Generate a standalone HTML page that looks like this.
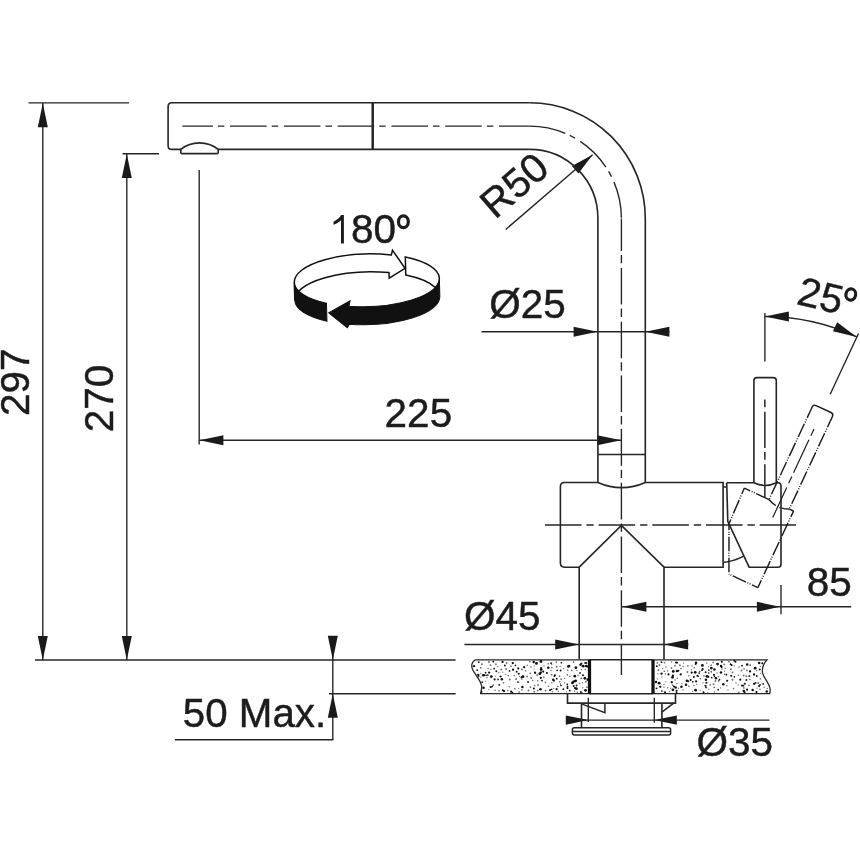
<!DOCTYPE html>
<html><head><meta charset="utf-8"><style>
html,body{margin:0;padding:0;background:#fff;}
svg{display:block;will-change:transform;}
text{font-family:"Liberation Sans",sans-serif;}
</style></head><body>
<svg width="860" height="860" viewBox="0 0 860 860">
<rect width="860" height="860" fill="#fff"/>
<line x1="28.5" y1="102.9" x2="129" y2="102.9" stroke="#262626" stroke-width="1.38" />
<line x1="42.8" y1="103" x2="42.8" y2="660" stroke="#262626" stroke-width="1.38" />
<polygon points="42.8,103.2 47.8,127.2 37.8,127.2" fill="#1a1a1a"/>
<polygon points="42.8,660 37.8,636 47.8,636" fill="#1a1a1a"/>
<line x1="122.5" y1="153.7" x2="159" y2="153.7" stroke="#262626" stroke-width="1.38" />
<line x1="126.8" y1="153.7" x2="126.8" y2="660" stroke="#262626" stroke-width="1.38" />
<polygon points="126.8,153.9 131.8,177.9 121.8,177.9" fill="#1a1a1a"/>
<polygon points="126.8,660 121.8,636 131.8,636" fill="#1a1a1a"/>
<line x1="35" y1="660" x2="455.6" y2="660" stroke="#262626" stroke-width="1.38" />
<line x1="329" y1="693.7" x2="455.6" y2="693.7" stroke="#262626" stroke-width="1.38" />
<line x1="332.8" y1="636" x2="332.8" y2="740" stroke="#262626" stroke-width="1.38" />
<polygon points="332.8,659.8 327.8,635.8 337.8,635.8" fill="#1a1a1a"/>
<polygon points="332.8,693.7 337.8,717.7 327.8,717.7" fill="#1a1a1a"/>
<line x1="175" y1="739.8" x2="333.3" y2="739.8" stroke="#262626" stroke-width="1.38" />
<line x1="199.2" y1="170" x2="199.2" y2="444.5" stroke="#262626" stroke-width="1.38" />
<line x1="199.2" y1="440.3" x2="621.4" y2="440.3" stroke="#262626" stroke-width="1.38" />
<polygon points="199.4,440.3 223.4,435.3 223.4,445.3" fill="#1a1a1a"/>
<polygon points="621.2,440.3 597.2,445.3 597.2,435.3" fill="#1a1a1a"/>
<line x1="481.5" y1="331.7" x2="669.5" y2="331.7" stroke="#262626" stroke-width="1.38" />
<polygon points="597.6,331.7 573.6,336.7 573.6,326.7" fill="#1a1a1a"/>
<polygon points="645.4,331.7 669.4,326.7 669.4,336.7" fill="#1a1a1a"/>
<line x1="464.4" y1="644.5" x2="688.4" y2="644.5" stroke="#262626" stroke-width="1.38" />
<polygon points="579.2,644.5 555.2,649.5 555.2,639.5" fill="#1a1a1a"/>
<polygon points="664.1,644.5 688.1,639.5 688.1,649.5" fill="#1a1a1a"/>
<line x1="621.4" y1="606.8" x2="851.2" y2="606.8" stroke="#262626" stroke-width="1.38" />
<polygon points="622.4,606.8 646.4,601.8 646.4,611.8" fill="#1a1a1a"/>
<polygon points="779.9,606.8 756.9,611.8 756.9,601.8" fill="#1a1a1a"/>
<line x1="781" y1="584.9" x2="781" y2="614.3" stroke="#262626" stroke-width="1.38" />
<line x1="565.9" y1="720.1" x2="769.4" y2="720.1" stroke="#262626" stroke-width="1.38" />
<polygon points="588.3,720.1 565.8,724.8 565.8,715.4" fill="#1a1a1a"/>
<polygon points="654.3,720.1 676.8,715.4 676.8,724.8" fill="#1a1a1a"/>
<line x1="588.3" y1="697.8" x2="588.3" y2="722" stroke="#262626" stroke-width="1.38" />
<line x1="654.3" y1="697.8" x2="654.3" y2="722.8" stroke="#262626" stroke-width="1.38" />
<line x1="764.9" y1="313" x2="764.9" y2="361.4" stroke="#262626" stroke-width="1.38" />
<line x1="858.5" y1="333.5" x2="830.2" y2="394.3" stroke="#262626" stroke-width="1.38" />
<path d="M764.9,316.5 A217.5,217.5 0 0 1 856.82,336.88" stroke="#262626" stroke-width="1.38" fill="none" />
<polygon points="764.9,316.5 788.9,311.5 788.9,321.5" fill="#1a1a1a"/>
<polygon points="856.82,336.88 832.95,331.27 837.18,322.2" fill="#1a1a1a"/>
<line x1="505.7" y1="229.5" x2="592.6" y2="154.7" stroke="#262626" stroke-width="1.38" />
<polygon points="592.6,154.7 578.43,173.49 571.91,165.92" fill="#1a1a1a"/>
<path d="M529.7,102.8 H171.8 Q168.1,102.8 168.1,106.5 V145.7 Q168.1,149.4 171.8,149.4 H529.7" stroke="#262626" stroke-width="1.62" fill="none" />
<path d="M529.7,102.8 A115.6,115.7 0 0 1 645.3,218.5 V482.5" stroke="#262626" stroke-width="1.62" fill="none" />
<path d="M529.7,149.4 A68.2,69.1 0 0 1 597.9,218.5 V482.5" stroke="#262626" stroke-width="1.62" fill="none" />
<line x1="597.9" y1="454.4" x2="645.3" y2="454.4" stroke="#262626" stroke-width="1.5" />
<path d="M597.9,482.5 Q621.6,492.9 645.3,482.5" stroke="#262626" stroke-width="1.69" fill="none" />
<line x1="372.7" y1="102.8" x2="372.7" y2="149.4" stroke="#262626" stroke-width="2.5" />
<path d="M180.8,149.4 V152.6 Q180.8,153.6 181.8,153.6 H217.2 Q218.2,153.6 218.2,152.6 V149.4 A30.2,30.2 0 0 0 180.8,149.4 Z" stroke="#262626" stroke-width="1.62" fill="#fff" />
<path d="M182.3,126.1 H529.7" stroke="#262626" stroke-width="1.38" fill="none" stroke-dasharray="36.6 5 6.5 5.68" stroke-dashoffset="6"/>
<path d="M529.7,126.1 A91.7,92.4 0 0 1 621.4,218.5" stroke="#262626" stroke-width="1.38" fill="none" stroke-dasharray="36.5 5 6 6" />
<path d="M621.4,218.5 V675" stroke="#262626" stroke-width="1.38" fill="none" stroke-dasharray="36.6 4 8.4 4.7" stroke-dashoffset="4.2"/>
<line x1="199.2" y1="170" x2="199.2" y2="170.1" stroke="#262626" stroke-width="1.38" />
<path d="M579.2,567.2 H564.5 Q560.4,567.2 560.4,563.1 V486.6 Q560.4,482.5 564.5,482.5 H597.9 M645.3,482.5 H723.1 V567.2 H663.8" stroke="#262626" stroke-width="1.62" fill="none" />
<path d="M579.2,659.5 V567.2 L621.4,525.4 L664,567.2 V659.5" stroke="#262626" stroke-width="1.62" fill="none" />
<line x1="544.9" y1="525.1" x2="796" y2="525.1" stroke="#262626" stroke-width="1.5" stroke-dasharray="36.6 4.9 7.3 4.9" />
<path d="M726.7,482.7 H753.9 M776.3,482.7 H778 Q781,482.7 781,485.7 V564.2 Q781,567.2 778,567.2 H749.1 L727.8,521.4 L726.7,482.7" stroke="#262626" stroke-width="1.62" fill="none" />
<path d="M753.9,482.7 V380.6 Q753.9,377.6 756.9,377.6 H773.3 Q776.3,377.6 776.3,380.6 V482.7 M753.9,482.7 Q765,488.2 776.3,482.7" stroke="#262626" stroke-width="1.62" fill="none" />
<line x1="764.85" y1="399.6" x2="764.85" y2="497.3" stroke="#262626" stroke-width="1.5" stroke-dasharray="36.4 4 7.6 4.5" stroke-dashoffset="40.4"/>
<line x1="723.1" y1="487" x2="726.5" y2="487" stroke="#262626" stroke-width="1.5" />
<line x1="723.1" y1="562.1" x2="726.7" y2="562.1" stroke="#262626" stroke-width="1.5" />
<path d="M726.7,562 Q737,560 743.7,556.1" stroke="#262626" stroke-width="1.5" fill="none" />
<g transform="rotate(25 723.4 525.2)" stroke="#1e1e1e" stroke-width="1.45" fill="none" stroke-linejoin="round"><path d="M726.7,482.7 H753.9" stroke-dasharray="14.5 1.6 1 1.4 1 1.6" stroke-dashoffset="8"/><path d="M726.7,482.7 L727.8,521.4" stroke-dasharray="14.5 1.6 1 1.4 1 1.6" stroke-dashoffset="8"/><path d="M781,482.7 H776.3" stroke-dasharray="14.5 1.6 1 1.4 1 1.6" stroke-dashoffset="8"/><path d="M781,482.7 V567.2" stroke-dasharray="14.5 1.6 1 1.4 1 1.6" stroke-dashoffset="8"/><path d="M781,567.2 H749.1" stroke-dasharray="14.5 1.6 1 1.4 1 1.6" stroke-dashoffset="8"/><path d="M727.8,521.4 L749.1,567.2" stroke-dasharray="14.5 1.6 1 1.4 1 1.6" stroke-dashoffset="8"/><path d="M753.9,386 V482.7" stroke-dasharray="14.5 1.6 1 1.4 1 1.6" stroke-dashoffset="8"/><path d="M776.3,386 V482.7" stroke-dasharray="14.5 1.6 1 1.4 1 1.6" stroke-dashoffset="8"/><path d="M753.9,386 V380.6 Q753.9,377.6 756.9,377.6 H773.3 Q776.3,377.6 776.3,380.6 V386"/><path d="M753.9,482.7 Q765,488.2 776.3,482.7" stroke-dasharray="9 1.6 1 1.4 1 1.6"/><path d="M764.85,399.6 V497.3" stroke-width="1.2" stroke-dasharray="36.4 4 7.6 4.5" stroke-dashoffset="40.4"/></g>
<path d="M475.3,659.8 C471.5,661.5 471,666.5 472.8,670 C475,674.5 481.3,681 481.7,686.5 C481.9,689.5 480.8,691.5 480.6,693.7 H589.5 V659.8 Z" fill="#fff" stroke="#262626" stroke-width="1.3"/>
<path d="M653,659.8 H767 C764,663 762,668.5 762.5,672.7 C763.5,678 769.5,683 770.2,689.5 L769.8,693.7 H653 Z" fill="#fff" stroke="#262626" stroke-width="1.3"/>
<clipPath id="ctc"><path d="M475.3,659.8 C471.5,661.5 471,666.5 472.8,670 C475,674.5 481.3,681 481.7,686.5 C481.9,689.5 480.8,691.5 480.6,693.7 H589.5 V659.8 Z M653,659.8 H767 C764,663 762,668.5 762.5,672.7 C763.5,678 769.5,683 770.2,689.5 L769.8,693.7 H653 Z"/></clipPath>
<g clip-path="url(#ctc)"><g fill="#707070"><circle cx="480.61" cy="677.13" r="0.65"/><circle cx="566.51" cy="691.84" r="0.65"/><circle cx="530.43" cy="687.21" r="0.85"/><circle cx="527.16" cy="665.15" r="0.75"/><circle cx="490.81" cy="669.32" r="0.75"/><circle cx="564.56" cy="683.03" r="0.75"/><circle cx="567.36" cy="674.81" r="0.85"/><circle cx="534.22" cy="666.02" r="0.65"/><circle cx="493.04" cy="685.28" r="0.95"/><circle cx="551.85" cy="682.85" r="0.75"/><circle cx="501.26" cy="669.46" r="0.95"/><circle cx="563.58" cy="668.34" r="0.65"/><circle cx="499.03" cy="690.84" r="0.85"/><circle cx="559.52" cy="676.22" r="0.85"/><circle cx="516.09" cy="678.94" r="0.95"/><circle cx="503.55" cy="682.83" r="0.95"/><circle cx="514.33" cy="675.61" r="0.75"/><circle cx="488.11" cy="668.38" r="0.75"/><circle cx="506.14" cy="668.96" r="0.95"/><circle cx="521.89" cy="679.44" r="0.65"/><circle cx="586.85" cy="687.14" r="0.85"/><circle cx="485.8" cy="681.04" r="0.65"/><circle cx="557.66" cy="686.52" r="0.85"/><circle cx="519.15" cy="692.07" r="0.85"/><circle cx="531.19" cy="677.88" r="0.95"/><circle cx="551.57" cy="674.67" r="0.95"/><circle cx="488.94" cy="689.53" r="0.65"/><circle cx="582.75" cy="687.64" r="0.65"/><circle cx="576.78" cy="670.43" r="0.65"/><circle cx="581.24" cy="678.42" r="0.95"/><circle cx="509.81" cy="679.54" r="0.95"/><circle cx="530.31" cy="673.28" r="0.85"/><circle cx="567.7" cy="670.27" r="0.85"/><circle cx="519.4" cy="676.51" r="0.65"/><circle cx="552.4" cy="691.76" r="0.75"/><circle cx="548.21" cy="663.73" r="0.85"/><circle cx="480.79" cy="667.84" r="0.95"/><circle cx="495.15" cy="690.33" r="0.75"/><circle cx="527.12" cy="676.4" r="0.95"/><circle cx="506.63" cy="663.01" r="0.95"/><circle cx="508.37" cy="675.69" r="0.75"/><circle cx="532.77" cy="680.52" r="0.75"/><circle cx="497.8" cy="666.5" r="0.75"/><circle cx="518.57" cy="688.34" r="0.65"/><circle cx="558.34" cy="691.55" r="0.75"/><circle cx="556.33" cy="662.1" r="0.95"/><circle cx="544" cy="666.08" r="0.75"/><circle cx="578.02" cy="675.15" r="0.75"/><circle cx="561.16" cy="679.15" r="0.85"/><circle cx="556.63" cy="666.74" r="0.95"/><circle cx="538.04" cy="684.91" r="0.95"/><circle cx="573.51" cy="662.17" r="0.85"/><circle cx="509.17" cy="686.64" r="0.75"/><circle cx="481.96" cy="664.29" r="0.95"/><circle cx="571.87" cy="670.42" r="0.85"/><circle cx="487.12" cy="677.85" r="0.75"/><circle cx="559.56" cy="681.75" r="0.85"/><circle cx="480.72" cy="685.16" r="0.95"/><circle cx="551.81" cy="667.6" r="0.85"/><circle cx="528.5" cy="690.5" r="0.95"/><circle cx="537.67" cy="680.84" r="0.75"/><circle cx="537.16" cy="675.07" r="0.95"/><circle cx="534.07" cy="668.84" r="0.65"/><circle cx="569.81" cy="676.27" r="0.85"/><circle cx="514.9" cy="688.73" r="0.85"/><circle cx="476.91" cy="688.43" r="0.75"/><circle cx="545.53" cy="690.69" r="0.85"/><circle cx="510.92" cy="666.15" r="0.85"/><circle cx="488.93" cy="661.94" r="0.95"/><circle cx="495.93" cy="664.29" r="0.95"/><circle cx="585.75" cy="681.74" r="0.95"/><circle cx="564.66" cy="678.38" r="0.65"/><circle cx="545.39" cy="682.46" r="0.85"/><circle cx="548.44" cy="686.13" r="0.75"/><circle cx="490.45" cy="665.13" r="0.85"/><circle cx="521.88" cy="669.42" r="0.95"/><circle cx="582.65" cy="682.77" r="0.65"/><circle cx="502.76" cy="672.2" r="0.65"/><circle cx="531.01" cy="666.98" r="0.85"/><circle cx="525.66" cy="670.73" r="0.75"/><circle cx="521.95" cy="689.77" r="0.85"/><circle cx="560.2" cy="666.39" r="0.65"/><circle cx="505.74" cy="674.29" r="0.65"/><circle cx="585.3" cy="669.51" r="0.75"/><circle cx="553.71" cy="688.5" r="0.65"/><circle cx="537.78" cy="690.55" r="0.85"/><circle cx="534.72" cy="685.49" r="0.85"/><circle cx="581.41" cy="669.5" r="0.65"/><circle cx="574.64" cy="691.3" r="0.75"/><circle cx="507.62" cy="690.82" r="0.75"/><circle cx="551.03" cy="670.46" r="0.75"/><circle cx="534.2" cy="691.64" r="0.95"/><circle cx="478.47" cy="682.08" r="0.85"/><circle cx="498.81" cy="672.86" r="0.75"/><circle cx="577.31" cy="692.19" r="0.75"/><circle cx="529.78" cy="661.6" r="0.95"/><circle cx="579.61" cy="683.46" r="0.75"/><circle cx="495.6" cy="676.12" r="0.65"/><circle cx="543.83" cy="677.07" r="0.85"/><circle cx="480.86" cy="673.61" r="0.75"/><circle cx="760.48" cy="678.75" r="0.85"/><circle cx="724.42" cy="671.24" r="0.65"/><circle cx="677.38" cy="678.28" r="0.75"/><circle cx="743.7" cy="675.44" r="0.95"/><circle cx="765.16" cy="665.09" r="0.95"/><circle cx="750.22" cy="665.17" r="0.95"/><circle cx="665.71" cy="667.01" r="0.75"/><circle cx="760.56" cy="673.36" r="0.65"/><circle cx="700.47" cy="678.57" r="0.85"/><circle cx="720.54" cy="687.93" r="0.65"/><circle cx="746.87" cy="670.43" r="0.85"/><circle cx="724.21" cy="664.4" r="0.95"/><circle cx="714.39" cy="691.97" r="0.75"/><circle cx="721.98" cy="668.92" r="0.75"/><circle cx="704.03" cy="675.8" r="0.85"/><circle cx="663.91" cy="684.52" r="0.75"/><circle cx="749.02" cy="685.33" r="0.85"/><circle cx="658.46" cy="670.14" r="0.95"/><circle cx="657.34" cy="662.91" r="0.85"/><circle cx="749.92" cy="679.51" r="0.85"/><circle cx="711.29" cy="671.78" r="0.95"/><circle cx="675.02" cy="680" r="0.75"/><circle cx="688.84" cy="675.85" r="0.75"/><circle cx="679.88" cy="665.24" r="0.95"/><circle cx="710.2" cy="684.82" r="0.85"/><circle cx="683.08" cy="689.92" r="0.75"/><circle cx="738.97" cy="692.27" r="0.85"/><circle cx="664.46" cy="662.72" r="0.85"/><circle cx="760.36" cy="666.5" r="0.65"/><circle cx="694.31" cy="667.77" r="0.85"/><circle cx="691.65" cy="669.76" r="0.65"/><circle cx="743.88" cy="687.89" r="0.95"/><circle cx="663.96" cy="687.35" r="0.75"/><circle cx="718.52" cy="676.42" r="0.75"/><circle cx="674.99" cy="665.72" r="0.85"/><circle cx="758.22" cy="683.07" r="0.95"/><circle cx="669.54" cy="691.46" r="0.75"/><circle cx="692.63" cy="691.34" r="0.65"/><circle cx="683.11" cy="666.57" r="0.75"/><circle cx="687.89" cy="665.83" r="0.85"/><circle cx="757.01" cy="688.08" r="0.65"/><circle cx="732.52" cy="679.79" r="0.95"/><circle cx="716.98" cy="673.08" r="0.75"/><circle cx="687.39" cy="672.03" r="0.95"/><circle cx="762.58" cy="670.32" r="0.75"/><circle cx="672.7" cy="685.21" r="0.85"/><circle cx="657.32" cy="678.94" r="0.65"/><circle cx="727.94" cy="689.9" r="0.65"/><circle cx="756.67" cy="670.85" r="0.75"/><circle cx="767.21" cy="688.39" r="0.65"/><circle cx="736.02" cy="682.9" r="0.75"/><circle cx="713.08" cy="662.39" r="0.85"/><circle cx="665.3" cy="674.11" r="0.75"/><circle cx="714.23" cy="687.4" r="0.85"/><circle cx="661.86" cy="676.93" r="0.65"/><circle cx="671.54" cy="661.96" r="0.75"/><circle cx="671.47" cy="668.07" r="0.95"/><circle cx="713.52" cy="684.28" r="0.95"/><circle cx="665.77" cy="681.8" r="0.65"/><circle cx="730.86" cy="669.15" r="0.95"/><circle cx="728.89" cy="661.71" r="0.85"/><circle cx="659.49" cy="664.98" r="0.95"/><circle cx="680.93" cy="668.49" r="0.85"/><circle cx="734.21" cy="665.96" r="0.65"/><circle cx="726.93" cy="685.76" r="0.75"/><circle cx="692.04" cy="666.02" r="0.75"/><circle cx="662.78" cy="668.56" r="0.65"/><circle cx="738.32" cy="684.95" r="0.65"/><circle cx="667.66" cy="687.73" r="0.75"/><circle cx="725.15" cy="668.3" r="0.75"/><circle cx="715.47" cy="681.02" r="0.95"/><circle cx="683.68" cy="663.12" r="0.65"/><circle cx="708.56" cy="666.63" r="0.65"/><circle cx="670.6" cy="688.15" r="0.65"/><circle cx="711.11" cy="665.13" r="0.85"/><circle cx="700.21" cy="690.7" r="0.65"/><circle cx="708.83" cy="689.09" r="0.65"/><circle cx="703" cy="682.93" r="0.65"/><circle cx="741.57" cy="670.53" r="0.95"/><circle cx="676.92" cy="683.47" r="0.75"/><circle cx="746.41" cy="676.19" r="0.95"/><circle cx="681.8" cy="683.7" r="0.65"/><circle cx="738.91" cy="667.05" r="0.75"/><circle cx="706.73" cy="662.94" r="0.75"/><circle cx="764.18" cy="687.22" r="0.75"/><circle cx="738.33" cy="675.25" r="0.65"/><circle cx="664.32" cy="671.23" r="0.85"/><circle cx="708.66" cy="672.95" r="0.95"/><circle cx="657.88" cy="673.67" r="0.65"/><circle cx="732.54" cy="672.39" r="0.85"/><circle cx="678.33" cy="688.32" r="0.75"/><circle cx="760" cy="689.26" r="0.75"/><circle cx="707.73" cy="692.3" r="0.65"/><circle cx="733.56" cy="688.49" r="0.85"/><circle cx="693.91" cy="685.48" r="0.75"/><circle cx="667.61" cy="671.01" r="0.65"/><circle cx="688.81" cy="686.27" r="0.85"/><circle cx="744.02" cy="668.77" r="0.85"/><circle cx="696.71" cy="684.52" r="0.65"/><circle cx="768.22" cy="681.81" r="0.65"/></g><g fill="#111"><circle cx="580.82" cy="691.93" r="0.95"/><circle cx="581.96" cy="692.9" r="0.76"/><circle cx="493.3" cy="661.59" r="0.95"/><circle cx="563.37" cy="689.13" r="0.95"/><circle cx="561.05" cy="685.52" r="0.85"/><circle cx="560.51" cy="684.11" r="0.68"/><circle cx="586.26" cy="666.1" r="1.4"/><circle cx="587.87" cy="666.59" r="1.12"/><circle cx="490.66" cy="686.96" r="1.05"/><circle cx="492.03" cy="686.55" r="0.84"/><circle cx="539.79" cy="673.72" r="1.4"/><circle cx="540.95" cy="672.44" r="1.12"/><circle cx="478.27" cy="674.86" r="1.15"/><circle cx="478.57" cy="675.9" r="0.92"/><circle cx="494.09" cy="668.64" r="0.85"/><circle cx="541.16" cy="669.59" r="1.4"/><circle cx="541.17" cy="668.09" r="1.12"/><circle cx="511.14" cy="691.69" r="1.15"/><circle cx="512.45" cy="692.62" r="0.92"/><circle cx="499.24" cy="684.92" r="0.95"/><circle cx="518.73" cy="673.79" r="1.05"/><circle cx="485.57" cy="672.7" r="0.85"/><circle cx="567.4" cy="688.11" r="1.05"/><circle cx="567.5" cy="686.39" r="0.84"/><circle cx="533.68" cy="662.08" r="1.25"/><circle cx="546.84" cy="672.97" r="1.05"/><circle cx="509.57" cy="670.89" r="0.85"/><circle cx="561.4" cy="662.75" r="0.85"/><circle cx="567.29" cy="684.29" r="0.85"/><circle cx="576.39" cy="688.71" r="1.4"/><circle cx="574.95" cy="688.08" r="1.12"/><circle cx="515.51" cy="665.28" r="0.85"/><circle cx="585.29" cy="662.93" r="1.05"/><circle cx="586.45" cy="662.94" r="0.84"/><circle cx="487.86" cy="675.12" r="0.85"/><circle cx="486.47" cy="675.2" r="0.68"/><circle cx="576.55" cy="685.52" r="0.95"/><circle cx="540.5" cy="689.35" r="1.25"/><circle cx="548.29" cy="667.77" r="1.25"/><circle cx="474.47" cy="674.4" r="0.95"/><circle cx="516.62" cy="671.72" r="0.95"/><circle cx="583.04" cy="675.27" r="0.95"/><circle cx="517.98" cy="682.09" r="0.85"/><circle cx="478.75" cy="662.19" r="0.85"/><circle cx="585.51" cy="690.34" r="1.4"/><circle cx="498.02" cy="679.41" r="0.85"/><circle cx="550.08" cy="689.99" r="1.05"/><circle cx="551.62" cy="689.25" r="0.84"/><circle cx="568.49" cy="666.47" r="1.4"/><circle cx="569.27" cy="665.81" r="1.12"/><circle cx="496.31" cy="671.31" r="0.95"/><circle cx="502.55" cy="661.97" r="1.15"/><circle cx="483.19" cy="675.33" r="1.25"/><circle cx="484.68" cy="675.16" r="1.00"/><circle cx="504.01" cy="691.12" r="1.15"/><circle cx="502.72" cy="690.26" r="0.92"/><circle cx="483.55" cy="687.87" r="1.25"/><circle cx="543.23" cy="671.6" r="1.05"/><circle cx="580.55" cy="664.77" r="1.25"/><circle cx="581.39" cy="663.5" r="1.00"/><circle cx="540.94" cy="661.51" r="1.4"/><circle cx="535.09" cy="672.76" r="1.15"/><circle cx="477.86" cy="678.52" r="1.05"/><circle cx="573.69" cy="686.07" r="0.95"/><circle cx="536.44" cy="663.43" r="1.4"/><circle cx="504.83" cy="665.49" r="0.95"/><circle cx="494.6" cy="679.41" r="1.05"/><circle cx="575.88" cy="667.64" r="1.4"/><circle cx="553.26" cy="679.81" r="1.25"/><circle cx="553.93" cy="680.8" r="1.00"/><circle cx="500.6" cy="676.44" r="1.05"/><circle cx="554.91" cy="675.27" r="1.05"/><circle cx="554.37" cy="676.28" r="0.84"/><circle cx="474.45" cy="686.11" r="1.4"/><circle cx="569.76" cy="690.6" r="0.95"/><circle cx="551.09" cy="663.16" r="0.85"/><circle cx="551.74" cy="664.07" r="0.68"/><circle cx="556.64" cy="689.14" r="1.05"/><circle cx="474.03" cy="666.16" r="1.15"/><circle cx="557.16" cy="670.37" r="0.85"/><circle cx="556.67" cy="678.64" r="0.85"/><circle cx="481.33" cy="691.84" r="1.15"/><circle cx="580.04" cy="672.96" r="0.85"/><circle cx="513.06" cy="669.65" r="1.15"/><circle cx="522.4" cy="686.97" r="1.25"/><circle cx="518.24" cy="668.39" r="1.05"/><circle cx="560.58" cy="670.43" r="0.95"/><circle cx="583.18" cy="666.15" r="1.4"/><circle cx="572.42" cy="682.94" r="1.4"/><circle cx="573.36" cy="681.69" r="1.12"/><circle cx="501.83" cy="679.19" r="1.25"/><circle cx="512.77" cy="663.12" r="1.15"/><circle cx="574.75" cy="676.14" r="1.4"/><circle cx="587.86" cy="679.65" r="1.4"/><circle cx="482.34" cy="682.12" r="0.95"/><circle cx="575.68" cy="680.82" r="1.4"/><circle cx="574.58" cy="681.32" r="1.12"/><circle cx="523.01" cy="676.7" r="1.4"/><circle cx="521.59" cy="677.49" r="1.12"/><circle cx="491.33" cy="676.56" r="1.4"/><circle cx="477.18" cy="670.11" r="0.95"/><circle cx="489.17" cy="672.61" r="1.15"/><circle cx="541.96" cy="680.59" r="0.85"/><circle cx="524.17" cy="667.14" r="1.15"/><circle cx="584.88" cy="678.35" r="1.4"/><circle cx="528.05" cy="681.96" r="0.95"/><circle cx="533.87" cy="688.45" r="1.05"/><circle cx="540.76" cy="677.8" r="1.15"/><circle cx="676.58" cy="690.83" r="1.05"/><circle cx="676.59" cy="692.53" r="0.84"/><circle cx="743.73" cy="691" r="1.25"/><circle cx="744.66" cy="692.22" r="1.00"/><circle cx="668.5" cy="674.41" r="1.05"/><circle cx="661.88" cy="691.04" r="0.85"/><circle cx="766.31" cy="669.08" r="1.05"/><circle cx="723.35" cy="684.13" r="1.25"/><circle cx="741.98" cy="665.61" r="0.95"/><circle cx="718.17" cy="689.6" r="0.85"/><circle cx="763.16" cy="683.92" r="0.85"/><circle cx="680.7" cy="674.46" r="1.15"/><circle cx="672.48" cy="677.31" r="1.4"/><circle cx="672.91" cy="675.74" r="1.12"/><circle cx="705.64" cy="672.3" r="0.95"/><circle cx="756.71" cy="675.91" r="0.95"/><circle cx="693.79" cy="676.99" r="1.05"/><circle cx="696.08" cy="681.41" r="1.05"/><circle cx="714.4" cy="669.49" r="1.25"/><circle cx="746.42" cy="679.98" r="0.95"/><circle cx="752.61" cy="689.9" r="1.25"/><circle cx="702.68" cy="669.1" r="1.05"/><circle cx="702.03" cy="670.18" r="0.84"/><circle cx="671.76" cy="682.25" r="1.15"/><circle cx="656.77" cy="666.15" r="0.95"/><circle cx="705.5" cy="685.82" r="1.05"/><circle cx="705.98" cy="687.46" r="0.84"/><circle cx="695.6" cy="690.21" r="1.4"/><circle cx="754.09" cy="674.48" r="1.15"/><circle cx="690.62" cy="679.98" r="1.05"/><circle cx="696.05" cy="662.75" r="1.25"/><circle cx="695.66" cy="663.93" r="1.00"/><circle cx="717.56" cy="664.05" r="1.4"/><circle cx="702.38" cy="665.41" r="1.4"/><circle cx="713.91" cy="674.69" r="1.05"/><circle cx="714.55" cy="676.31" r="0.84"/><circle cx="675.6" cy="687.48" r="1.25"/><circle cx="674.03" cy="686.61" r="1.00"/><circle cx="744.8" cy="683.74" r="1.05"/><circle cx="755.13" cy="668.16" r="1.4"/><circle cx="734.33" cy="676.83" r="0.85"/><circle cx="727.23" cy="680.76" r="1.05"/><circle cx="740.3" cy="679.67" r="1.05"/><circle cx="720.99" cy="665.93" r="1.25"/><circle cx="721.61" cy="666.98" r="1.00"/><circle cx="707.01" cy="676.36" r="1.4"/><circle cx="708.3" cy="676.76" r="1.12"/><circle cx="681.44" cy="686.81" r="1.25"/><circle cx="720.88" cy="672.55" r="1.25"/><circle cx="697.37" cy="675.77" r="0.95"/><circle cx="698.4" cy="676.16" r="0.76"/><circle cx="699.16" cy="673.09" r="0.85"/><circle cx="699.78" cy="671.5" r="0.68"/><circle cx="706.44" cy="682.71" r="1.05"/><circle cx="726.47" cy="674.65" r="0.85"/><circle cx="724.81" cy="674.26" r="0.68"/><circle cx="659.18" cy="683.13" r="1.4"/><circle cx="719.46" cy="679.57" r="0.85"/><circle cx="718.72" cy="680.99" r="0.68"/><circle cx="711.37" cy="668.06" r="1.4"/><circle cx="766.74" cy="691.48" r="1.25"/><circle cx="759.03" cy="686.1" r="1.05"/><circle cx="760.1" cy="684.86" r="0.84"/><circle cx="711.75" cy="677.58" r="0.85"/><circle cx="731.24" cy="675.73" r="1.05"/><circle cx="747.18" cy="664.39" r="1.25"/><circle cx="691.69" cy="672.57" r="1.15"/><circle cx="766.7" cy="676.45" r="0.85"/><circle cx="656.06" cy="682.12" r="1.25"/><circle cx="735.44" cy="661.68" r="1.05"/><circle cx="734.25" cy="660.65" r="0.84"/><circle cx="676.06" cy="662.55" r="1.05"/><circle cx="677.22" cy="662.69" r="0.84"/><circle cx="705.94" cy="679.77" r="1.25"/><circle cx="708.85" cy="669.98" r="0.85"/><circle cx="765.54" cy="673.71" r="1.05"/><circle cx="759.14" cy="663.12" r="1.25"/><circle cx="676.91" cy="670.99" r="1.25"/><circle cx="678.36" cy="670.81" r="1.00"/><circle cx="661.49" cy="662.17" r="0.95"/><circle cx="747.06" cy="689.66" r="1.05"/><circle cx="660.29" cy="686.82" r="1.15"/><circle cx="673.28" cy="671.38" r="1.4"/><circle cx="686.01" cy="684.75" r="1.25"/><circle cx="750" cy="671.39" r="1.15"/><circle cx="756.53" cy="692.08" r="1.05"/><circle cx="742.02" cy="685.62" r="1.05"/><circle cx="743.4" cy="685.7" r="0.84"/><circle cx="695.2" cy="672.37" r="1.4"/><circle cx="731.52" cy="665.1" r="1.05"/><circle cx="730.61" cy="664.15" r="0.84"/><circle cx="692.8" cy="681.78" r="0.85"/><circle cx="686.84" cy="680.64" r="1.25"/><circle cx="688.14" cy="681.16" r="1.00"/><circle cx="715.94" cy="678.13" r="1.25"/><circle cx="762.29" cy="663.33" r="1.05"/><circle cx="664.98" cy="692.19" r="1.05"/><circle cx="749.28" cy="676.08" r="0.95"/><circle cx="759.78" cy="669.44" r="0.95"/><circle cx="721.85" cy="661.79" r="1.05"/><circle cx="656.53" cy="688.36" r="0.95"/><circle cx="754.13" cy="683.85" r="1.15"/><circle cx="755.59" cy="682.95" r="0.92"/><circle cx="661.56" cy="673.68" r="1.15"/><circle cx="703.54" cy="692.3" r="1.05"/><circle cx="768.39" cy="673.15" r="0.85"/><circle cx="768.27" cy="672.1" r="0.68"/><circle cx="672.93" cy="689.85" r="1.4"/></g></g>
<line x1="589.5" y1="659.8" x2="653" y2="659.8" stroke="#262626" stroke-width="1.62" />
<line x1="589.5" y1="693.7" x2="653" y2="693.7" stroke="#262626" stroke-width="1.62" />
<line x1="589.5" y1="659.8" x2="589.5" y2="693.7" stroke="#111" stroke-width="3.25" />
<line x1="653" y1="659.8" x2="653" y2="693.7" stroke="#111" stroke-width="3.25" />
<path d="M567.5,693.8 V703.1 H675.5 V693.8" stroke="#262626" stroke-width="1.62" fill="none" />
<path d="M581.5,703.1 V727.3 M661.9,703.1 V727.3" stroke="#262626" stroke-width="1.62" fill="none" />
<path d="M581.5,703.9 L604.9,712.7 V703.1" stroke="#262626" stroke-width="1.5" fill="none" />
<path d="M673.7,703.1 L661.9,712.2" stroke="#262626" stroke-width="1.5" fill="none" />
<path d="M574.4,727.8 H668.6 Q670.6,727.8 670.6,729.8 V732.9 Q670.6,734.9 668.6,734.9 H574.4 Q572.4,734.9 572.4,732.9 V729.8 Q572.4,727.8 574.4,727.8 Z M572.4,731.4 H670.6" stroke="#262626" stroke-width="1.5" fill="#fff" />
<g transform="rotate(-1.5 366.85 280.3)">
<path d="M294.3,280.3 A72.55,26.4 0 0 1 392,255.54 L393.28,250.88 L405.3,269.3 L389.25,278.69 L389.2,273.18 A72.55,26.4 0 0 0 294.3,298.3 Z" stroke="#111" stroke-width="1.5" fill="#fff" />
<path d="M405.9,258.05 A72.55,26.4 0 0 1 439.4,280.3 A72.55,26.4 0 0 1 435.05,289.3 A72.55,26.4 0 0 0 405.9,276.05 Z" stroke="#111" stroke-width="1.5" fill="#fff" />
<path d="M439.4,280.3 A72.55,26.4 0 0 1 348.3,305.82 L349.57,300.35 L327.86,311.89 L346.06,327.27 L348.3,323.82 A72.55,26.4 0 0 0 439.4,298.3 Z" stroke="#111" stroke-width="1" fill="#111" />
<path d="M294.3,280.3 A72.55,26.4 0 0 0 325.9,302.09 L325.9,320.09 A72.55,26.4 0 0 1 294.3,298.3 Z" stroke="#111" stroke-width="1" fill="#111" />
</g>
<text x="328.7" y="243.3" font-size="40.5" text-anchor="start" fill="#1c1c1c" stroke="#1c1c1c" stroke-width="0.45" dx="22.24">80</text>
<path d="M341,243.6 V220.2 C339.3,222 336.5,223.8 333.5,224.8 V221.8 C336.8,220.3 339.7,217.6 341.2,215.1 H343.9 V243.6 Z" fill="#1c1c1c"/>
<ellipse cx="403.4" cy="221.7" rx="4.9" ry="5.9" fill="none" stroke="#1c1c1c" stroke-width="3.2"/>
<text x="489.3" y="317.6" font-size="40.5" text-anchor="start" fill="#1c1c1c" stroke="#1c1c1c" stroke-width="0.45" >Ø25</text>
<text x="384.6" y="426.8" font-size="40.5" text-anchor="start" fill="#1c1c1c" stroke="#1c1c1c" stroke-width="0.45" >225</text>
<text x="806.8" y="596.3" font-size="40.5" text-anchor="start" fill="#1c1c1c" stroke="#1c1c1c" stroke-width="0.45" >85</text>
<text x="464" y="630" font-size="40.5" text-anchor="start" fill="#1c1c1c" stroke="#1c1c1c" stroke-width="0.45" >Ø45</text>
<text x="696.4" y="756" font-size="40.5" text-anchor="start" fill="#1c1c1c" stroke="#1c1c1c" stroke-width="0.45" >Ø35</text>
<text x="182.8" y="726.6" font-size="40.3" text-anchor="start" fill="#1c1c1c" stroke="#1c1c1c" stroke-width="0.45" >50 Max.</text>
<text x="29.4" y="382.3" font-size="40.5" text-anchor="middle" fill="#1c1c1c" stroke="#1c1c1c" stroke-width="0.45" transform="rotate(-90 29.4 382.3)" >297</text>
<text x="112.6" y="398.5" font-size="40.5" text-anchor="middle" fill="#1c1c1c" stroke="#1c1c1c" stroke-width="0.45" transform="rotate(-90 112.6 398.5)" >270</text>
<text x="495.1" y="219.9" font-size="40.5" text-anchor="start" fill="#1c1c1c" stroke="#1c1c1c" stroke-width="0.45" transform="rotate(-40.7 495.1 219.9)" >R50</text>
<text x="795.6" y="303.8" font-size="40.5" text-anchor="start" fill="#1c1c1c" stroke="#1c1c1c" stroke-width="0.45" transform="rotate(13.5 795.6 303.8)" >25</text>
<ellipse cx="850.8" cy="294.5" rx="4.85" ry="5.65" fill="none" stroke="#1c1c1c" stroke-width="3.2" transform="rotate(13.5 850.8 294.5)"/>
</svg></body></html>
